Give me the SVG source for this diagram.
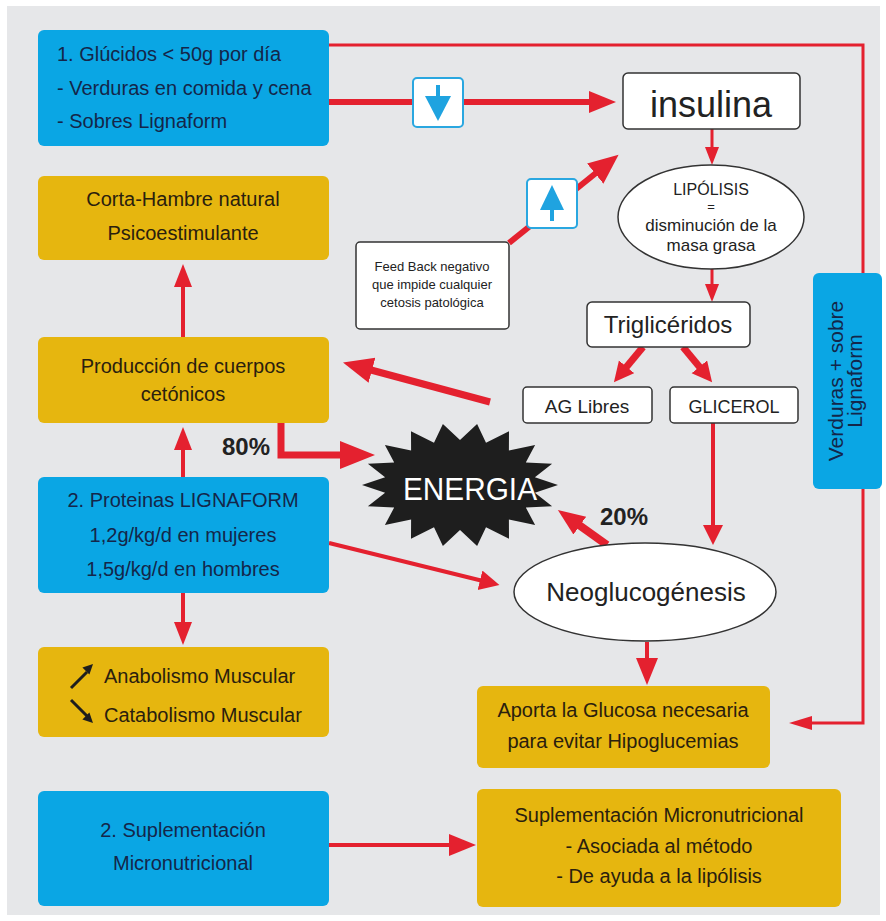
<svg xmlns="http://www.w3.org/2000/svg" width="886" height="921" viewBox="0 0 886 921">
<style>
text{font-family:"Liberation Sans",Arial,sans-serif}
.blue{fill:#0aa6e4}
.yel{fill:#e6b60f}
.wbox{fill:#fff;stroke:#333;stroke-width:1.5}
.tb{fill:#14264a;font-size:20px}
.ty{fill:#2a200e;font-size:20px}
.tw{fill:#222}
.c{text-anchor:middle}
.ln{fill:none;stroke:#e4212f;stroke-linejoin:miter}
.icon{fill:#fff;stroke:#2aa7e0;stroke-width:2}
.iar{fill:#1fa3e0}
</style>
<defs>
<marker id="aBig" markerUnits="userSpaceOnUse" markerWidth="36" markerHeight="30" refX="1" refY="14" orient="auto"><path d="M0,0 L35,14 L0,28 z" fill="#e4212f"/></marker>
<marker id="aL" markerUnits="userSpaceOnUse" markerWidth="32" markerHeight="28" refX="1" refY="13" orient="auto"><path d="M0,0 L30,13 L0,26 z" fill="#e4212f"/></marker>
<marker id="aM" markerUnits="userSpaceOnUse" markerWidth="30" markerHeight="24" refX="1" refY="11" orient="auto"><path d="M0,0 L27,11 L0,22 z" fill="#e4212f"/></marker>
<marker id="aT" markerUnits="userSpaceOnUse" markerWidth="26" markerHeight="22" refX="1" refY="10" orient="auto"><path d="M0,0 L20,10 L0,20 z" fill="#e4212f"/></marker>
<marker id="aV" markerUnits="userSpaceOnUse" markerWidth="26" markerHeight="20" refX="1" refY="9" orient="auto"><path d="M0,0 L23,9 L0,18 z" fill="#e4212f"/></marker>
<marker id="aS" markerUnits="userSpaceOnUse" markerWidth="26" markerHeight="16" refX="1" refY="7" orient="auto"><path d="M0,0 L23,7 L0,14 z" fill="#e4212f"/></marker>
<marker id="aXS" markerUnits="userSpaceOnUse" markerWidth="20" markerHeight="16" refX="1" refY="7" orient="auto"><path d="M0,0 L18,7 L0,14 z" fill="#e4212f"/></marker>
</defs>
<rect x="7" y="6" width="873" height="909" fill="#e6e7e9"/>

<g id="connectors">
<polyline class="ln" stroke-width="3" points="329,45 863,45 863,723 811,723" marker-end="url(#aS)"/>
<line class="ln" stroke-width="6" x1="329" y1="102" x2="590" y2="102" marker-end="url(#aM)"/>
<line class="ln" stroke-width="6" x1="509" y1="243" x2="596" y2="173" marker-end="url(#aL)"/>
<line class="ln" stroke-width="3" x1="712" y1="129" x2="712" y2="148" marker-end="url(#aXS)"/>
<line class="ln" stroke-width="3" x1="712" y1="269" x2="712" y2="285" marker-end="url(#aXS)"/>
<line class="ln" stroke-width="7" x1="643" y1="347" x2="626" y2="367.6" marker-end="url(#aT)"/>
<line class="ln" stroke-width="7" x1="683" y1="347" x2="700" y2="367.6" marker-end="url(#aT)"/>
<line class="ln" stroke-width="7" x1="490" y1="402" x2="371" y2="370" marker-end="url(#aL)"/>
<line class="ln" stroke-width="4" x1="713" y1="423" x2="713" y2="526" marker-end="url(#aT)"/>
<line class="ln" stroke-width="4" x1="647" y1="642" x2="647" y2="659" marker-end="url(#aM)"/>
<line class="ln" stroke-width="8" x1="607" y1="545" x2="579" y2="525" marker-end="url(#aM)"/>
<line class="ln" stroke-width="4" x1="329" y1="543" x2="481" y2="580.5" marker-end="url(#aT)"/>
<polyline class="ln" stroke-width="7" points="281,423 281,455 341,455" marker-end="url(#aBig)"/>
<line class="ln" stroke-width="4" x1="183" y1="337" x2="183" y2="286" marker-end="url(#aV)"/>
<line class="ln" stroke-width="4" x1="183" y1="477" x2="183" y2="449" marker-end="url(#aV)"/>
<line class="ln" stroke-width="4" x1="183" y1="593" x2="183" y2="623" marker-end="url(#aV)"/>
<line class="ln" stroke-width="4" x1="329" y1="845" x2="450" y2="845" marker-end="url(#aM)"/>
</g>

<g id="glucidos">
<rect class="blue" x="38" y="30" width="291" height="116" rx="6"/>
<text class="tb" x="57" y="61">1. Glúcidos &lt; 50g por día</text>
<text class="tb" x="57" y="95">- Verduras en comida y cena</text>
<text class="tb" x="57" y="128">- Sobres Lignaform</text>
</g>

<g id="icon-down">
<rect class="icon" x="413" y="78" width="50" height="49" rx="4"/>
<rect class="iar" x="436" y="85" width="4" height="12"/>
<polygon class="iar" points="425,96 451,96 438,121"/>
</g>

<g id="icon-up">
<rect class="icon" x="527" y="179" width="50" height="49" rx="4"/>
<polygon class="iar" points="540,210 564,210 552,185"/>
<rect class="iar" x="550" y="209" width="4" height="12"/>
</g>

<g id="insulina">
<rect class="wbox" x="623" y="73" width="177" height="56" rx="5"/>
<text class="tw c" x="711" y="117" font-size="36">insulina</text>
</g>

<g id="lipolisis">
<ellipse class="wbox" cx="711" cy="217" rx="93" ry="52"/>
<text class="tw c" x="711" y="195" font-size="16">LIPÓLISIS</text>
<text class="tw c" x="711" y="211" font-size="13">=</text>
<text class="tw c" x="711" y="231" font-size="17">disminución de la</text>
<text class="tw c" x="711" y="251" font-size="17">masa grasa</text>
</g>

<g id="feedback">
<rect class="wbox" x="356" y="242" width="153" height="87" rx="4"/>
<text class="tw c" x="432" y="271" font-size="13">Feed Back negativo</text>
<text class="tw c" x="432" y="289" font-size="13">que impide cualquier</text>
<text class="tw c" x="432" y="307" font-size="13">cetosis patológica</text>
</g>

<g id="corta-hambre">
<rect class="yel" x="38" y="176" width="291" height="84" rx="6"/>
<text class="ty c" x="183" y="206">Corta-Hambre natural</text>
<text class="ty c" x="183" y="240">Psicoestimulante</text>
</g>

<g id="trigliceridos">
<rect class="wbox" x="587" y="302" width="163" height="45" rx="5"/>
<text class="tw c" x="668" y="333" font-size="24">Triglicéridos</text>
</g>

<g id="ag-libres">
<rect class="wbox" x="523" y="387" width="129" height="36" rx="4"/>
<text class="tw c" x="587" y="413" font-size="19">AG Libres</text>
</g>

<g id="glicerol">
<rect class="wbox" x="670" y="387" width="128" height="36" rx="4"/>
<text class="tw c" x="734" y="413" font-size="18">GLICEROL</text>
</g>

<g id="verduras-sobre">
<rect class="blue" x="813" y="273" width="69" height="216" rx="6"/>
<g transform="translate(848,381) rotate(-90)">
<text class="c" x="0" y="-5" fill="#14264a" font-size="21">Verduras + sobre</text>
<text class="c" x="0" y="14" fill="#14264a" font-size="21">Lignaform</text>
</g>
</g>

<g id="produccion">
<rect class="yel" x="38" y="337" width="291" height="86" rx="6"/>
<text class="ty c" x="183" y="373">Producción de cuerpos</text>
<text class="ty c" x="183" y="401">cetónicos</text>
</g>

<g id="pct80">
<text x="222" y="455" font-size="24" font-weight="bold" fill="#222">80%</text>
</g>

<g id="energia">
<polygon fill="#1e1e1e" points="558,485 534.9,492.8 552.1,506.2 525.8,507.5 535.1,524.9 508.9,519.5 509,538.7 486,527.3 477.1,546.1 460,530 442.9,546.1 434,527.3 411,538.7 411.1,519.5 384.9,524.9 394.2,507.5 367.9,506.2 385.1,492.8 362,485 385.1,477.2 367.9,463.8 394.2,462.5 384.9,445.1 411.1,450.5 411,431.3 434,442.7 442.9,423.9 460,440 477.1,423.9 486,442.7 509,431.3 508.9,450.5 535.1,445.1 525.8,462.5 552.1,463.8 534.9,477.2"/>
<text class="c" x="470" y="500" font-size="31" fill="#fff" textLength="134" lengthAdjust="spacingAndGlyphs">ENERGIA</text>
</g>

<g id="pct20">
<text x="600" y="525" font-size="24" font-weight="bold" fill="#222">20%</text>
</g>

<g id="proteinas">
<rect class="blue" x="38" y="477" width="291" height="116" rx="6"/>
<text class="tb c" x="183" y="507">2. Proteinas LIGNAFORM</text>
<text class="tb c" x="183" y="542">1,2g/kg/d en mujeres</text>
<text class="tb c" x="183" y="576">1,5g/kg/d en hombres</text>
</g>

<g id="neoglucogenesis">
<ellipse class="wbox" cx="645" cy="592" rx="131" ry="49"/>
<text class="tw c" x="646" y="601" font-size="26">Neoglucogénesis</text>
</g>

<g id="anabolismo">
<rect class="yel" x="38" y="647" width="291" height="90" rx="6"/>
<line x1="71" y1="688" x2="87" y2="672" stroke="#1e1e1e" stroke-width="3"/>
<polygon fill="#1e1e1e" points="93,664 89.4,674.6 82.4,667.6"/>
<line x1="71" y1="700" x2="87" y2="716" stroke="#1e1e1e" stroke-width="3"/>
<polygon fill="#1e1e1e" points="93,723 89.4,712.4 82.4,719.4"/>
<text class="ty" x="104" y="683">Anabolismo Muscular</text>
<text class="ty" x="104" y="722">Catabolismo Muscular</text>
</g>

<g id="aporta">
<rect class="yel" x="477" y="686" width="293" height="82" rx="6"/>
<text class="ty c" x="623" y="717">Aporta la Glucosa necesaria</text>
<text class="ty c" x="623" y="748">para evitar Hipoglucemias</text>
</g>

<g id="suplementacion">
<rect class="blue" x="38" y="791" width="291" height="115" rx="6"/>
<text class="tb c" x="183" y="837">2. Suplementación</text>
<text class="tb c" x="183" y="870">Micronutricional</text>
</g>

<g id="suplementacion-micro">
<rect class="yel" x="477" y="789" width="364" height="118" rx="6"/>
<text class="ty c" x="659" y="822">Suplementación Micronutricional</text>
<text class="ty c" x="659" y="853">- Asociada al método</text>
<text class="ty c" x="659" y="883">- De ayuda a la lipólisis</text>
</g>
</svg>
